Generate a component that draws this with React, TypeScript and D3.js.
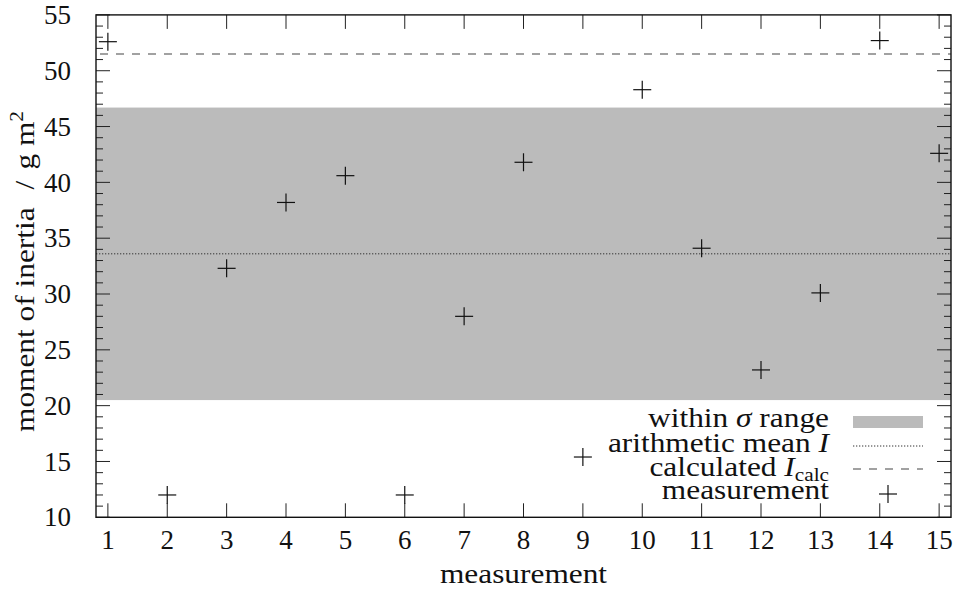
import React from "react";
import * as d3 from "d3";

const measurementIndex = [1, 2, 3, 4, 5, 6, 7, 8, 9, 10, 11, 12, 13, 14, 15];
const momentValues = [52.6, 12.0, 32.3, 38.2, 40.6, 12.0, 28.0, 41.8, 15.4, 48.3, 34.1, 23.2, 30.1, 52.7, 42.6];
const xTickValues = [1, 2, 3, 4, 5, 6, 7, 8, 9, 10, 11, 12, 13, 14, 15];
const yTickValues = [10, 15, 20, 25, 30, 35, 40, 45, 50, 55];
const yMinorTickValues = d3.range(10, 56, 1).filter((v) => v % 5 !== 0);
const meanValue = 33.6;
const sigmaLow = 20.5;
const sigmaHigh = 46.7;
const calcValue = 51.5;

const W = 954;
const H = 591;
const FONT = "Liberation Serif, DejaVu Serif, serif";
const SX = 1.12; // horizontal stretch to mimic Computer Modern widths

export default function App() {
  const x = d3.scaleLinear().domain([0.8, 15.2]).range([96, 951]);
  const y = d3.scaleLinear().domain([10, 55]).range([517.3, 14.9]);
  const [x0, x1] = x.range();
  const [yb, yt] = y.range();
  const tickColor = "#222";
  const majorLen = 14;
  const minorLen = 7;

  const legendRight = 829;
  const sampleX0 = 853;
  const sampleX1 = 923;
  const rowY = [422, 446, 469, 494];
  const rowBase = [427, 452, 476, 499];

  return (
    <svg width={W} height={H} style={{ position: "absolute", left: 0, top: 0, background: "#fff", fontFamily: FONT }}>
      <rect x={x0} y={y(sigmaHigh)} width={x1 - x0} height={y(sigmaLow) - y(sigmaHigh)} fill="#bbbbbb" />
      <line x1={x0} x2={x1} y1={y(meanValue)} y2={y(meanValue)} stroke="#333" strokeWidth={1} strokeDasharray="1.3,1.7" />
      <line x1={x0} x2={x1} y1={y(calcValue)} y2={y(calcValue)} stroke="#444" strokeWidth={1.2} strokeDasharray="8,8" strokeDashoffset={-4} />

      {momentValues.map((v, i) => {
        const cx = x(measurementIndex[i]);
        const cy = y(v);
        return (
          <g key={i} stroke="#111" strokeWidth={1.2}>
            <line x1={cx - 9} x2={cx + 9} y1={cy} y2={cy} />
            <line x1={cx} x2={cx} y1={cy - 9} y2={cy + 9} />
          </g>
        );
      })}

      <g stroke={tickColor} strokeWidth={1}>
        {xTickValues.map((t) => (
          <g key={"xt" + t}>
            <line x1={x(t)} x2={x(t)} y1={yb} y2={yb - majorLen} />
            <line x1={x(t)} x2={x(t)} y1={yt} y2={yt + majorLen} />
          </g>
        ))}
        {yTickValues.map((t) => (
          <g key={"yt" + t}>
            <line x1={x0} x2={x0 + majorLen} y1={y(t)} y2={y(t)} />
            <line x1={x1} x2={x1 - majorLen} y1={y(t)} y2={y(t)} />
          </g>
        ))}
        {yMinorTickValues.map((t) => (
          <g key={"ym" + t}>
            <line x1={x0} x2={x0 + minorLen} y1={y(t)} y2={y(t)} />
            <line x1={x1} x2={x1 - minorLen} y1={y(t)} y2={y(t)} />
          </g>
        ))}
      </g>

      <rect x={x0} y={yt} width={x1 - x0} height={yb - yt} fill="none" stroke="#111" strokeWidth={1.4} />

      <g fontSize={27} fill="#111">
        {xTickValues.map((t) => (
          <text key={"xl" + t} x={x(t)} y={549} textAnchor="middle">
            {t}
          </text>
        ))}
        {yTickValues.map((t) => (
          <text key={"yl" + t} x={71} y={y(t)} dy="0.34em" textAnchor="end">
            {t}
          </text>
        ))}
      </g>

      <text transform={`translate(${(x0 + x1) / 2}, 583) scale(${SX},1)`} textAnchor="middle" fontSize={28} fill="#111">
        measurement
      </text>
      <text transform={`translate(33.5, 432) rotate(-90) scale(${SX},1)`} textAnchor="start" fontSize={28} fill="#111">
        moment of inertia<tspan dx={16}>/</tspan>
        <tspan dx={10}>g m</tspan>
        <tspan fontSize={19} dy={-11}>2</tspan>
      </text>

      <g fontSize={28} fill="#111">
        <text transform={`translate(${legendRight}, ${rowBase[0]}) scale(${SX},1)`} textAnchor="end">
          within <tspan fontStyle="italic">σ</tspan> range
        </text>
        <text transform={`translate(${legendRight}, ${rowBase[1]}) scale(${SX},1)`} textAnchor="end">
          arithmetic mean <tspan fontStyle="italic">I</tspan>
        </text>
        <text transform={`translate(${legendRight}, ${rowBase[2]}) scale(${SX},1)`} textAnchor="end">
          calculated <tspan fontStyle="italic">I</tspan>
          <tspan fontSize={19} dy={5}>calc</tspan>
        </text>
        <text transform={`translate(${legendRight}, ${rowBase[3]}) scale(${SX},1)`} textAnchor="end">
          measurement
        </text>
      </g>
      <rect x={sampleX0} y={rowY[0] - 6} width={sampleX1 - sampleX0} height={12} fill="#bbbbbb" />
      <line x1={sampleX0} x2={sampleX1} y1={rowY[1]} y2={rowY[1]} stroke="#333" strokeWidth={1} strokeDasharray="1.3,1.7" />
      <line x1={sampleX0} x2={sampleX1} y1={rowY[2]} y2={rowY[2]} stroke="#444" strokeWidth={1.2} strokeDasharray="8,8" />
      <g stroke="#111" strokeWidth={1.2}>
        <line x1={888 - 9} x2={888 + 9} y1={rowY[3]} y2={rowY[3]} />
        <line x1={888} x2={888} y1={rowY[3] - 9} y2={rowY[3] + 9} />
      </g>
    </svg>
  );
}
